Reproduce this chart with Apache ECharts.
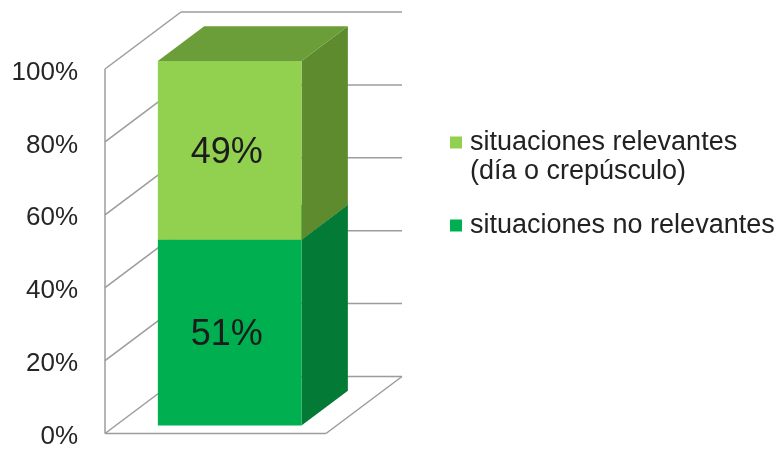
<!DOCTYPE html>
<html>
<head>
<meta charset="utf-8">
<script src="https://cdn.jsdelivr.net/npm/echarts@6/dist/echarts.min.js"></script>
<style>
  html, body { margin: 0; padding: 0; background: #ffffff; }
  #chart { width: 781px; height: 450px; }
</style>
</head>
<body>
<div id="chart"></div>
<script>
// Categories and values (percent of cases)
const categories = ['Situaciones'];
const nameNoRelevantes = 'situaciones no relevantes';
const nameRelevantes = 'situaciones relevantes\n(día o crepúsculo)';
const noRelevantes = [51];
const relevantes = [49];
const yTicks = [0, 20, 40, 60, 80, 100];

// Oblique projection used for the 3D look
const DEPTH = { dx: 76, dy: -57 };
const BAR_FRONT = 0.14;   // depth fraction of the bar front face
const BAR_BACK = 0.75;    // depth fraction of the bar back face
const BAR_RATIO = 0.65;   // bar width relative to the category band
const BAR_SHIFT = 0.016;  // small horizontal offset of the bar within its band
const FONT = "'Liberation Sans', Arial, sans-serif";

const shades = {
  no: { front: '#00b050', side: '#047a37', top: '#049447' },
  rel: { front: '#92d050', side: '#5f8b2f', top: '#6b9e38' }
};

// Stacked segments: [categoryIndex, start, end, value]
const dataNo = categories.map((c, i) => [i, 0, noRelevantes[i], noRelevantes[i]]);
const dataRel = categories.map((c, i) => [i, noRelevantes[i], noRelevantes[i] + relevantes[i], relevantes[i]]);
const wallData = yTicks.map(v => [0, v]);

function barRenderer(shade) {
  return function (params, api) {
    const cat = api.value(0);
    const start = api.value(1);
    const end = api.value(2);
    const val = api.value(3);
    const band = api.size([1, 0])[0];
    const w = band * BAR_RATIO;
    const pb = api.coord([cat, start]);
    const pt = api.coord([cat, end]);
    const cx = pb[0] + band * BAR_SHIFT;
    const xl = cx - w / 2, xr = cx + w / 2;
    const yb = pb[1], yt = pt[1];
    const fx = DEPTH.dx * BAR_FRONT, fy = DEPTH.dy * BAR_FRONT;
    const bx = DEPTH.dx * BAR_BACK, by = DEPTH.dy * BAR_BACK;
    return {
      type: 'group',
      children: [
        { type: 'polygon', shape: { points: [[xr + fx, yt + fy], [xr + bx, yt + by], [xr + bx, yb + by], [xr + fx, yb + fy]] },
          style: { fill: shade.side } },
        { type: 'polygon', shape: { points: [[xl + fx, yt + fy], [xr + fx, yt + fy], [xr + bx, yt + by], [xl + bx, yt + by]] },
          style: { fill: shade.top } },
        { type: 'rect', shape: { x: xl + fx, y: yt + fy, width: w, height: yb - yt },
          style: { fill: shade.front } },
        { type: 'text', x: cx + fx - 3, y: (yt + yb) / 2 + fy + 3,
          style: { text: val + '%', fill: '#1c1c1c', font: '36px ' + FONT, align: 'center', verticalAlign: 'middle' } }
      ]
    };
  };
}

function renderWalls(params, api) {
  const cs = params.coordSys;
  const v = api.value(1);
  const y = api.coord([0, v])[1];
  const x0 = cs.x, x1 = cs.x + cs.width;
  const lineStyle = { stroke: '#9c9c9c', lineWidth: 1.5 };
  const children = [
    { type: 'line', shape: { x1: x0, y1: y, x2: x0 + DEPTH.dx, y2: y + DEPTH.dy }, style: lineStyle },
    { type: 'line', shape: { x1: x0 + DEPTH.dx, y1: y + DEPTH.dy, x2: x1 + DEPTH.dx, y2: y + DEPTH.dy }, style: lineStyle }
  ];
  if (v === yTicks[0]) {
    children.push({ type: 'line', shape: { x1: x0, y1: y, x2: x1, y2: y }, style: lineStyle });
    children.push({ type: 'line', shape: { x1: x1, y1: y, x2: x1 + DEPTH.dx, y2: y + DEPTH.dy }, style: lineStyle });
  }
  if (v === yTicks[yTicks.length - 1]) {
    const y0 = api.coord([0, yTicks[0]])[1];
    children.push({ type: 'line', shape: { x1: x0, y1: y, x2: x0, y2: y0 }, style: lineStyle });
  }
  return { type: 'group', children };
}

const chart = echarts.init(document.getElementById('chart'), null, { renderer: 'canvas' });

const legendBase = {
  orient: 'vertical',
  left: 450,
  padding: 0,
  itemWidth: 12,
  itemHeight: 12,
  icon: 'rect',
  selectedMode: false,
  textStyle: { fontFamily: FONT, fontSize: 27, lineHeight: 29, color: '#222222', padding: [0, 0, 0, 3] }
};

chart.setOption({
  animation: false,
  backgroundColor: '#ffffff',
  grid: { left: 105, top: 69, width: 221, height: 366 },
  xAxis: {
    type: 'category',
    data: categories,
    axisLine: { show: false },
    axisTick: { show: false },
    axisLabel: { show: false },
    splitLine: { show: false }
  },
  yAxis: {
    type: 'value',
    min: 0,
    max: 100,
    interval: 20,
    axisLine: { show: false },
    axisTick: { show: false },
    splitLine: { show: false },
    axisLabel: {
      formatter: '{value}%',
      margin: 27,
      fontFamily: FONT,
      fontSize: 26,
      color: '#262626',
      verticalAlign: 'top',
      lineHeight: 7
    }
  },
  legend: [
    Object.assign({}, legendBase, {
      top: 99,
      // leading blank line keeps the marker beside the first text line
      formatter: name => '\n' + name,
      data: [nameRelevantes]
    }),
    Object.assign({}, legendBase, {
      top: 211,
      data: [nameNoRelevantes]
    })
  ],
  series: [
    {
      name: 'walls',
      type: 'custom',
      renderItem: renderWalls,
      data: wallData,
      encode: { x: 0, y: 1 },
      silent: true,
      z: 1
    },
    {
      name: nameNoRelevantes,
      type: 'custom',
      renderItem: barRenderer(shades.no),
      itemStyle: { color: shades.no.front },
      data: dataNo,
      encode: { x: 0, y: [1, 2] },
      z: 2
    },
    {
      name: nameRelevantes,
      type: 'custom',
      renderItem: barRenderer(shades.rel),
      itemStyle: { color: shades.rel.front },
      data: dataRel,
      encode: { x: 0, y: [1, 2] },
      z: 3
    }
  ]
});
</script>
</body>
</html>
